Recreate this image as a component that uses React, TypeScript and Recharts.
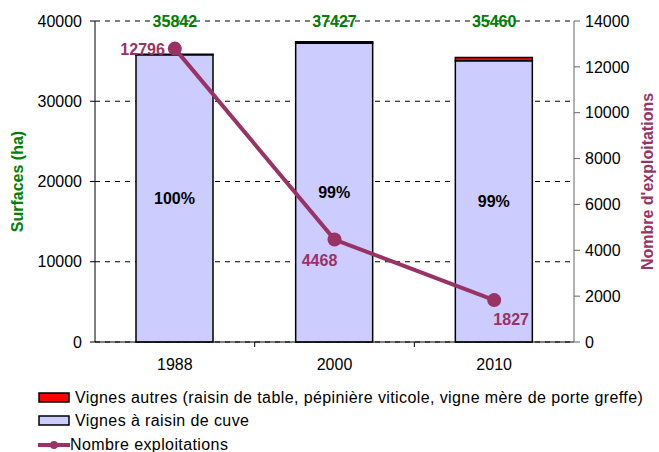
import React from "react";
import {
  ComposedChart,
  Bar,
  Line,
  XAxis,
  YAxis,
  CartesianGrid,
  LabelList,
  ReferenceDot,
  Legend,
  Text,
} from "recharts";

const years = ["1988", "2000", "2010"];
const totals = [35842, 37427, 35460];
const autres = [60, 200, 400];
const pct = ["100%", "99%", "99%"];
const exploitations = [12796, 4468, 1827];
const leftTicks = [0, 10000, 20000, 30000, 40000];
const rightTicks = [0, 2000, 4000, 6000, 8000, 10000, 12000, 14000];

const data = years.map((y, i) => ({
  year: y,
  cuve: totals[i] - autres[i],
  autres: autres[i],
  pct: pct[i],
  expl: exploitations[i],
}));

const FONT = "'Liberation Sans', Arial, sans-serif";
const PURPLE = "#993366";
const GREEN = "#008000";
const X_TICK_MARGIN = 17;

const LineLabel = (props: any) => {
  const { x, y, value, index } = props;
  let tx = x;
  let ty = y;
  let anchor: any = "middle";
  if (index === 0) {
    tx = x - 10;
    ty = y + 6;
    anchor = "end";
  } else if (index === 1) {
    tx = x - 15;
    ty = y + 26;
    anchor = "middle";
  } else {
    tx = x + 17;
    ty = y + 25;
    anchor = "middle";
  }
  return (
    <text x={tx} y={ty} textAnchor={anchor} fill={PURPLE} fontSize={16} fontWeight="bold" fontFamily={FONT}>
      {value}
    </text>
  );
};

const CategoryTick = (props: any) => {
  const { x, y, payload, index, visibleTicksCount } = props;
  const half = payload && payload.offset ? payload.offset : 0;
  const axisY = y - X_TICK_MARGIN;
  const isLast = index === (visibleTicksCount ?? years.length) - 1;
  return (
    <g>
      {!isLast && half > 0 && (
        <line x1={x + half} y1={axisY} x2={x + half} y2={axisY + 5} stroke="#000" strokeWidth={1} />
      )}
      <Text x={x} y={y} textAnchor="middle" verticalAnchor="start" fill="#000" fontSize={16} fontFamily={FONT}>
        {payload.value}
      </Text>
    </g>
  );
};

const LegendContent = () => {
  const rowStyle: React.CSSProperties = {
    display: "flex",
    alignItems: "center",
    height: 23.5,
    whiteSpace: "nowrap",
  };
  const textStyle: React.CSSProperties = {
    fontFamily: FONT,
    fontSize: 16,
    letterSpacing: 0.4,
    color: "#000",
    marginLeft: 5,
  };
  return (
    <div style={{ position: "relative", height: 70, paddingLeft: 38 }}>
      <div style={rowStyle}>
        <svg width={32} height={12}>
          <rect x={1} y={1} width={30} height={9} fill="#FF0000" stroke="#000" strokeWidth={1.5} />
        </svg>
        <span style={textStyle}>
          Vignes autres (raisin de table, pépinière viticole, vigne mère de porte greffe)
        </span>
      </div>
      <div style={rowStyle}>
        <svg width={32} height={12}>
          <rect x={1} y={1} width={30} height={9} fill="#CCCCFF" stroke="#000" strokeWidth={1.5} />
        </svg>
        <span style={textStyle}>Vignes à raisin de cuve</span>
      </div>
      <div style={rowStyle}>
        <svg width={32} height={12}>
          <line x1={0} y1={6} x2={32} y2={6} stroke={PURPLE} strokeWidth={4} />
          <circle cx={16} cy={6} r={4} fill={PURPLE} />
        </svg>
        <span style={{ ...textStyle, marginLeft: 0 }}>Nombre exploitations</span>
      </div>
    </div>
  );
};

export default function App() {
  return (
    <div style={{ position: "fixed", left: 0, top: 0, width: 659, height: 452, background: "#fff", overflow: "hidden" }}>
      <ComposedChart
        width={659}
        height={452}
        data={data}
        margin={{ top: 21, right: 0, bottom: 10, left: 0 }}
        barSize={77}
        style={{ fontFamily: FONT }}
      >
        <CartesianGrid vertical={false} stroke="#000" strokeDasharray="5 5" yAxisId="left" xAxisId="cat" />
        <XAxis
          dataKey="year"
          xAxisId="cat"
          height={30}
          tickLine={false}
          tickSize={0}
          axisLine={{ stroke: "#000" }}
          tick={CategoryTick}
          tickMargin={X_TICK_MARGIN}
        />
        <YAxis
          yAxisId="left"
          width={95}
          domain={[0, 40000]}
          ticks={leftTicks}
          tickSize={5}
          tickMargin={8}
          axisLine={{ stroke: "#000" }}
          tickLine={{ stroke: "#000" }}
          tick={{ fill: "#000", fontSize: 16, fontFamily: FONT }}
          label={{
            value: "Surfaces (ha)",
            angle: -90,
            position: "center",
            dx: -30,
            fill: GREEN,
            fontSize: 16,
            fontWeight: "bold",
            fontFamily: FONT,
          }}
        />
        <YAxis
          yAxisId="right"
          orientation="right"
          width={85}
          domain={[0, 14000]}
          ticks={rightTicks}
          tickSize={6}
          tickMargin={5}
          axisLine={{ stroke: "#666" }}
          tickLine={{ stroke: "#666" }}
          tick={{ fill: "#000", fontSize: 16, fontFamily: FONT }}
          label={{
            value: "Nombre d'exploitations",
            angle: -90,
            position: "center",
            dx: 31,
            fill: PURPLE,
            fontSize: 16,
            fontWeight: "bold",
            fontFamily: FONT,
          }}
        />
        <Bar
          dataKey="cuve"
          stackId="s"
          xAxisId="cat"
          yAxisId="left"
          fill="#CCCCFF"
          stroke="#000"
          strokeWidth={1.5}
          isAnimationActive={false}
        >
          <LabelList
            dataKey="pct"
            position="center"
            fill="#000"
            fontSize={16}
            fontWeight="bold"
            fontFamily={FONT}
          />
        </Bar>
        <Bar
          dataKey="autres"
          stackId="s"
          xAxisId="cat"
          yAxisId="left"
          fill="#FF0000"
          stroke="#000"
          strokeWidth={1.5}
          isAnimationActive={false}
        />
        <Line
          dataKey="expl"
          xAxisId="cat"
          yAxisId="right"
          stroke={PURPLE}
          strokeWidth={4}
          dot={{ r: 7, fill: PURPLE, stroke: PURPLE, strokeWidth: 0 }}
          activeDot={false}
          isAnimationActive={false}
        >
          <LabelList dataKey="expl" content={LineLabel} />
        </Line>
        {years.map((y, i) => (
          <ReferenceDot
            key={y}
            x={y}
            y={40000}
            xAxisId="cat"
            yAxisId="left"
            r={0}
            fill="none"
            stroke="none"
            label={{
              value: String(totals[i]),
              position: "center",
              fill: GREEN,
              fontSize: 16,
              fontWeight: "bold",
              fontFamily: FONT,
            }}
          />
        ))}
        <Legend
          verticalAlign="bottom"
          align="left"
          content={<LegendContent />}
          wrapperStyle={{ left: 0, top: 386, bottom: "auto", width: 659 }}
        />
      </ComposedChart>
    </div>
  );
}
